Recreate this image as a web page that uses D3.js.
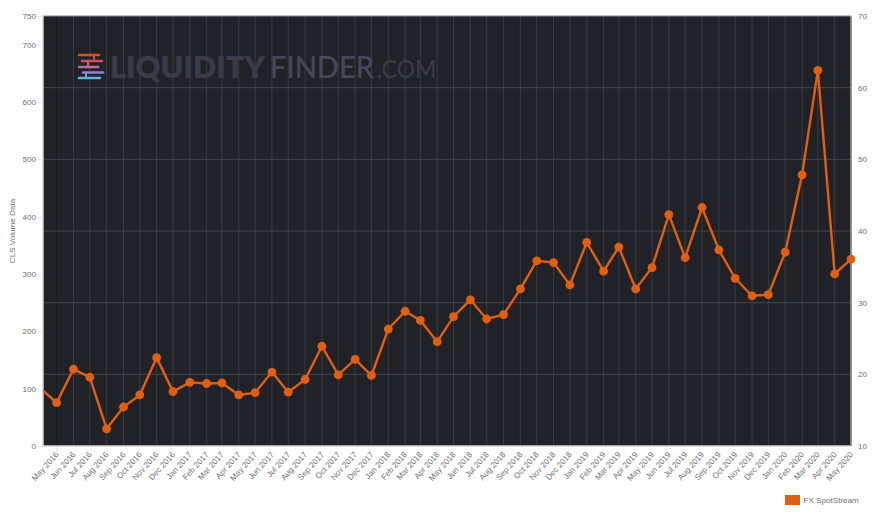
<!DOCTYPE html>
<html>
<head>
<meta charset="utf-8">
<script src="https://cdn.jsdelivr.net/npm/d3@7/dist/d3.min.js"></script>
<style>
  html, body { margin: 0; padding: 0; background: #fff; }
  svg { display: block; font-family: "Liberation Sans", Arial, sans-serif; }
</style>
</head>
<body>
<svg id="chart" width="884" height="523"></svg>
<script>
// Monthly FX SpotStream volumes; the first entry sits just before the visible window.
const months = [
  "Apr 2016", "May 2016", "Jun 2016", "Jul 2016", "Aug 2016", "Sep 2016", "Oct 2016", "Nov 2016", "Dec 2016",
  "Jan 2017", "Feb 2017", "Mar 2017", "Apr 2017", "May 2017", "Jun 2017", "Jul 2017", "Aug 2017", "Sep 2017", "Oct 2017", "Nov 2017", "Dec 2017",
  "Jan 2018", "Feb 2018", "Mar 2018", "Apr 2018", "May 2018", "Jun 2018", "Jul 2018", "Aug 2018", "Sep 2018", "Oct 2018", "Nov 2018", "Dec 2018",
  "Jan 2019", "Feb 2019", "Mar 2019", "Apr 2019", "May 2019", "Jun 2019", "Jul 2019", "Aug 2019", "Sep 2019", "Oct 2019", "Nov 2019", "Dec 2019",
  "Jan 2020", "Feb 2020", "Mar 2020", "Apr 2020", "May 2020"
];
const spotStream = [
  101, 75.5, 134, 120, 30, 68, 89, 154, 95,
  111, 109, 110, 89, 93, 129, 94, 116, 174, 124, 151, 123,
  204, 235, 219, 182, 225.5, 255, 221.5, 229, 274, 323, 320, 281,
  355, 305, 347, 274, 311, 403.5, 328.5, 416, 342, 292.5, 262, 264,
  338, 473, 655, 300, 326
];
const leftTicks = [0, 100, 200, 300, 400, 500, 600, 700, 750];
const rightTicks = [10, 20, 30, 40, 50, 60, 70];
const seriesName = "FX SpotStream";
const leftTitle = "CLS Volume Data";

const parseMonth = d3.utcParse("%b %Y");
const formatMonth = d3.utcFormat("%b %Y");
const dates = months.map(parseMonth);
const tickDates = dates.slice(1);

const plot = { left: 43, right: 851, top: 16, bottom: 446 };
const orange = "#e25f12";
const tickText = "#6f6f6f";
const fontSize = 8.1;

const x = d3.scaleUtc()
  .domain([Date.UTC(2016, 3, 6), Date.UTC(2020, 4, 1)])
  .range([plot.left, plot.right]);
const yLeft = d3.scaleLinear().domain([0, 750]).range([plot.bottom, plot.top]);
const yRight = d3.scaleLinear().domain([10, 70]).range([plot.bottom, plot.top]);

const svg = d3.select("#chart");

svg.append("defs").append("clipPath").attr("id", "plot-clip")
  .append("rect")
  .attr("x", plot.left).attr("y", plot.top)
  .attr("width", plot.right - plot.left).attr("height", plot.bottom - plot.top);

svg.append("rect")
  .attr("x", plot.left).attr("y", plot.top)
  .attr("width", plot.right - plot.left).attr("height", plot.bottom - plot.top)
  .attr("fill", "#212227");

// Vertical month gridlines; the first one is darker than the rest.
svg.append("g").selectAll("line").data(tickDates).join("line")
  .attr("x1", d => x(d)).attr("x2", d => x(d))
  .attr("y1", plot.top).attr("y2", plot.bottom)
  .attr("stroke", (d, i) => i === 0 ? "#191a1d" : "#3a3b41")
  .attr("stroke-width", 1);

// Horizontal gridlines follow the right-hand axis.
svg.append("g").selectAll("line").data(rightTicks.slice(1, -1)).join("line")
  .attr("x1", plot.left).attr("x2", plot.right)
  .attr("y1", d => yRight(d)).attr("y2", d => yRight(d))
  .attr("stroke", "#45464b")
  .attr("stroke-width", 1);

// Watermark
const mark = svg.append("g");
const logoBars = [
  [79, 91, 55, "#dd4a2e"], [91, 99, 55, "#dd4a2e"],
  [82, 102, 61, "#c9505f"],
  [85, 98, 67, "#c46aa0"], [79, 83, 67, "#b56aa5"],
  [83, 103, 72.5, "#8a87cf"],
  [79, 92, 78, "#62b4d8"], [93, 100, 78, "#62b4d8"]
];
mark.selectAll("line.bar").data(logoBars).join("line")
  .attr("class", "bar")
  .attr("x1", d => d[0]).attr("x2", d => d[1])
  .attr("y1", d => d[2]).attr("y2", d => d[2])
  .attr("stroke", d => d[3]).attr("stroke-width", 2.6).attr("stroke-linecap", "round");
mark.selectAll("line.stem").data([[94, 55, 61, "#cf4c48"], [88, 61, 67, "#c4588a"], [86, 72.5, 78, "#72a0d4"]]).join("line")
  .attr("class", "stem")
  .attr("x1", d => d[0]).attr("x2", d => d[0])
  .attr("y1", d => d[1]).attr("y2", d => d[2])
  .attr("stroke", d => d[3]).attr("stroke-width", 2);
const wordmark = [
  ["LIQUIDITY", 110, 155, 800, "#3a3b49"],
  ["FINDER", 270, 104, 500, "#464859"],
  [".COM", 377, 59, 400, "#3a3c49"]
];
mark.selectAll("text").data(wordmark).join("text")
  .attr("x", d => d[1]).attr("y", 77.5)
  .attr("textLength", d => d[2]).attr("lengthAdjust", "spacingAndGlyphs")
  .attr("font-family", "Lato, sans-serif")
  .attr("font-size", (d, i) => i === 2 ? 25 : 30)
  .attr("font-weight", d => d[3])
  .attr("fill", d => d[4])
  .text(d => d[0]);

// Plot frame
const frame = svg.append("g").attr("stroke", "#d4d4d6").attr("stroke-width", 1.5);
frame.append("line").attr("x1", plot.left).attr("x2", plot.right).attr("y1", plot.top).attr("y2", plot.top).attr("stroke", "#8a8a8e").attr("stroke-width", 1);
frame.append("line").attr("x1", plot.left).attr("x2", plot.right).attr("y1", plot.bottom).attr("y2", plot.bottom);
frame.append("line").attr("x1", plot.left).attr("x2", plot.left).attr("y1", plot.top).attr("y2", plot.bottom);
frame.append("line").attr("x1", plot.right).attr("x2", plot.right).attr("y1", plot.top).attr("y2", plot.bottom).attr("stroke", "#9a9a9e");

function styleAxis(g) {
  g.select(".domain").remove();
  g.selectAll("text").attr("fill", tickText).attr("font-size", fontSize).attr("font-family", "Liberation Sans, Arial, sans-serif");
}

svg.append("g")
  .attr("transform", `translate(${plot.left},0)`)
  .call(d3.axisLeft(yLeft).tickValues(leftTicks).tickSize(7).tickPadding(0).tickFormat(d3.format("d")))
  .call(styleAxis)
  .call(g => g.selectAll("line").attr("stroke", "#e6e6e6"));

svg.append("g")
  .attr("transform", `translate(${plot.right},0)`)
  .call(d3.axisRight(yRight).tickValues(rightTicks).tickSize(0).tickPadding(7).tickFormat(d3.format("d")))
  .call(styleAxis);

svg.append("g")
  .attr("transform", `translate(0,${plot.bottom})`)
  .call(d3.axisBottom(x).tickValues(tickDates).tickSize(0).tickFormat(formatMonth))
  .call(styleAxis)
  .call(g => g.selectAll("text")
    .attr("text-anchor", "end")
    .attr("dy", 0).attr("y", 0)
    .attr("transform", "translate(2,9) rotate(-48)"))
  .call(g => g.selectAll("line").attr("stroke", "#d8d8d8").attr("y2", (d, i) => i === 0 ? 6 : 0));

svg.append("text")
  .attr("transform", "translate(15,231) rotate(-90)")
  .attr("text-anchor", "middle")
  .attr("font-size", fontSize)
  .attr("fill", tickText)
  .text(leftTitle);

// Series line, clipped to the plot; points outside the window get no marker.
const points = dates.map((d, i) => ({ date: d, value: spotStream[i] }));
const line = d3.line().x(d => x(d.date)).y(d => yLeft(d.value));

svg.append("path")
  .datum(points)
  .attr("clip-path", "url(#plot-clip)")
  .attr("d", line)
  .attr("fill", "none")
  .attr("stroke", orange)
  .attr("stroke-width", 2.4)
  .attr("stroke-linejoin", "miter");

svg.append("g").selectAll("circle")
  .data(points.filter(d => x(d.date) >= plot.left))
  .join("circle")
  .attr("cx", d => x(d.date))
  .attr("cy", d => yLeft(d.value))
  .attr("r", 4.4)
  .attr("fill", orange);

// Legend
const legend = svg.append("g");
legend.append("rect")
  .attr("x", 785).attr("y", 495).attr("width", 15).attr("height", 10)
  .attr("fill", orange);
legend.append("text")
  .attr("x", 803.5).attr("y", 503)
  .attr("font-size", fontSize)
  .attr("fill", tickText)
  .text(seriesName);
</script>
</body>
</html>
